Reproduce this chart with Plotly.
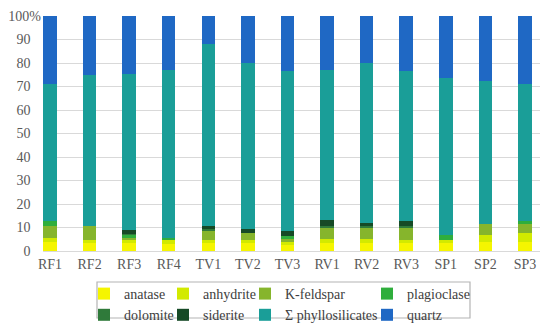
import plotly.graph_objects as go

samples = ["RF1", "RF2", "RF3", "RF4", "TV1", "TV2", "TV3", "RV1", "RV2", "RV3", "SP1", "SP2", "SP3"]

anatase =        [3.8, 3.5, 3.5, 3.0, 3.5, 3.3, 2.5, 3.5, 3.5, 3.4, 3.3, 3.8, 3.8]
anhydrite =      [1.9, 1.3, 1.2, 1.5, 1.0, 1.2, 1.3, 1.7, 1.7, 1.4, 1.5, 2.9, 4.0]
k_feldspar =     [5.0, 5.8, 1.0, 0.0, 4.3, 3.2, 1.2, 5.0, 5.0, 5.4, 0.0, 4.9, 3.8]
plagioclase =    [2.0, 0.0, 1.3, 1.2, 0.0, 0.0, 1.4, 0.0, 0.0, 0.0, 1.9, 0.0, 1.2]
dolomite =       [0.0, 0.0, 0.3, 0.0, 0.4, 0.0, 0.0, 0.6, 0.4, 0.5, 0.0, 0.0, 0.0]
siderite =       [0.0, 0.0, 1.5, 0.0, 1.4, 1.8, 2.0, 2.2, 1.5, 2.1, 0.0, 0.0, 0.0]
phyllosilicates = [58.3, 64.2, 66.5, 71.2, 77.4, 70.6, 68.2, 63.9, 68.0, 63.8, 67.1, 60.6, 58.1]
quartz =         [29.0, 25.2, 24.7, 23.1, 12.0, 19.9, 23.4, 23.1, 19.9, 23.4, 26.2, 27.8, 29.1]

series_names = ["anatase", "anhydrite", "K-feldspar", "plagioclase",
                "dolomite", "siderite", "Σ phyllosilicates", "quartz"]
series_values = [anatase, anhydrite, k_feldspar, plagioclase,
                 dolomite, siderite, phyllosilicates, quartz]
colors = ["#f5f500", "#d2ea00", "#86b52c", "#2fae3c",
          "#2f7a3a", "#164a26", "#1a9e98", "#1f68c4"]
legend_ids = ["legend", "legend2", "legend3", "legend4",
              "legend", "legend2", "legend3", "legend4"]

y_tickvals = [0, 10, 20, 30, 40, 50, 60, 70, 80, 90, 100]
pad = "\u2007\u00a0"
y_ticktext = [str(v) + pad for v in y_tickvals[:-1]] + ["100%"]

W, H = 542, 328
L, R, T, B = 35, 10, 8, 85

fig = go.Figure()
for name, vals, col, lg in zip(series_names, series_values, colors, legend_ids):
    fig.add_trace(go.Bar(x=samples, y=vals, name=name, marker_color=col,
                         marker_line_width=0, legend=lg))

leg_font = dict(family="Liberation Serif", size=14, color="#404040")
text_starts = [113, 192, 274, 396]
leg_common = dict(orientation="v", xref="container", yref="container",
                  xanchor="left", yanchor="top", y=1 - 270 / H,
                  borderwidth=0, bgcolor="rgba(0,0,0,0)", font=leg_font,
                  traceorder="normal", tracegroupgap=0)
legends = {}
for i, key in enumerate(["legend", "legend2", "legend3", "legend4"]):
    legends[key] = dict(leg_common, x=(text_starts[i] - 37) / W)

fig.update_layout(
    barmode="stack",
    barnorm="percent",
    bargap=0.66,
    width=W, height=H,
    margin=dict(l=L, r=R, t=T, b=B, autoexpand=False),
    plot_bgcolor="white", paper_bgcolor="white",
    font=dict(family="Liberation Serif", size=14, color="#595959"),
    showlegend=True,
    **legends,
)
pw = W - L - R
ph = H - T - B
fig.add_shape(type="rect", xref="paper", yref="paper", layer="above",
              x0=(89 - L) / pw, x1=(462 - L) / pw,
              y0=(H - B - 274) / ph, y1=(H - B - 310) / ph,
              line=dict(color="#b4b4b4", width=1.2), fillcolor="rgba(0,0,0,0)")

fig.update_yaxes(range=[0, 100], tickvals=y_tickvals, ticktext=y_ticktext,
                 showgrid=True, gridcolor="#d9d9d9", gridwidth=1,
                 zeroline=False, showline=False, ticks="", automargin=False,
                 ticklabelstandoff=1)
fig.update_xaxes(range=[-0.177, 12.38], showline=True, linecolor="#d9d9d9",
                 ticks="", showgrid=False, automargin=False)

fig.write_html("out.html")
